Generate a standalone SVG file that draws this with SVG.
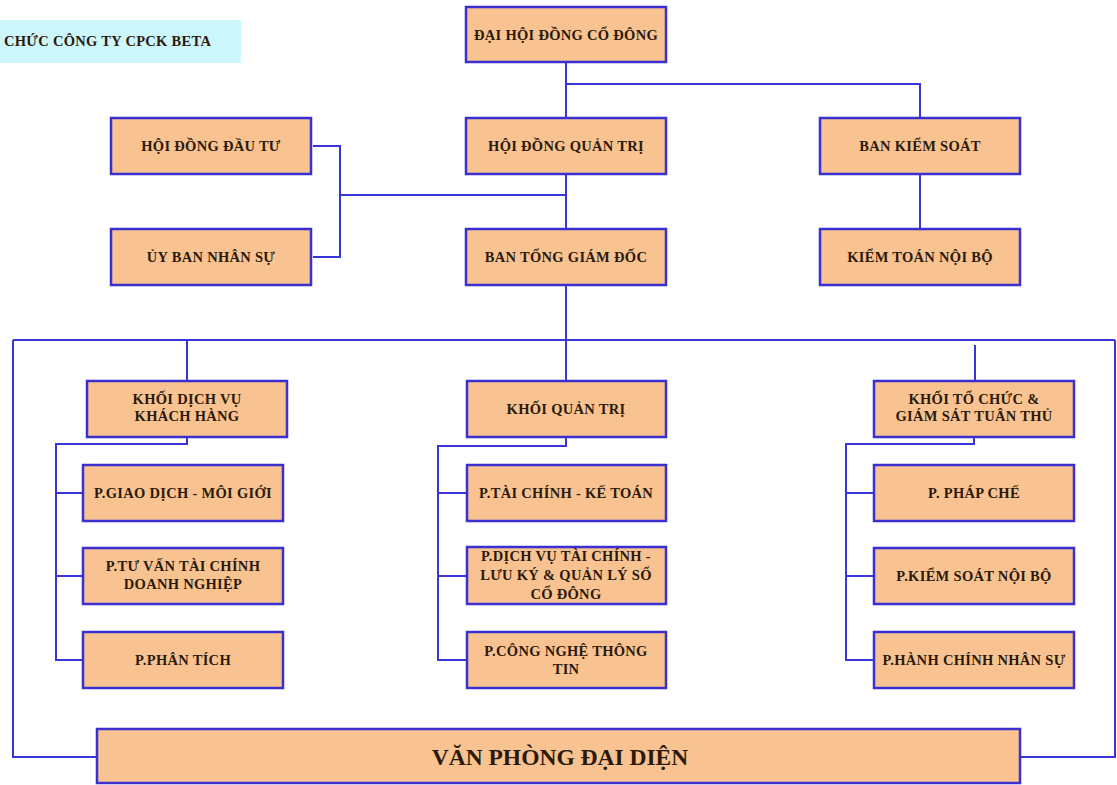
<svg xmlns="http://www.w3.org/2000/svg" width="1117" height="785" viewBox="0 0 1117 785">
<style>
.box{fill:#F9C391;stroke:#3A2FD0;stroke-width:2.5}
.t{font-family:"Liberation Serif",serif;font-weight:bold;font-size:14.5px;letter-spacing:0.3px;fill:#2B1A0C;text-anchor:middle}
.big{font-size:23.5px;letter-spacing:0}
.ln{fill:none;stroke:#3A35D8;stroke-width:2}
</style>
<rect width="1117" height="785" fill="#FFFFFF"/>
<g id="title">
<rect x="0" y="20" width="241" height="43" fill="#CCF6FA"/>
<text x="4" y="46" class="t" style="text-anchor:start">CHỨC CÔNG TY CPCK BETA</text>
</g>
<g id="connectors">
<path class="ln" d="M566 62V118M566 84H920V118"/>
<path class="ln" d="M566 174V229M313 146H340V257H313M340 195H566"/>
<path class="ln" d="M920 174V229"/>
<path class="ln" d="M566 285V381M13 340H1115M187 340V381M975 345V381"/>
<path class="ln" d="M13 340V757H97M1020 757H1115V340"/>
<path class="ln" d="M187 437V444H56V660H83M56 493H83M56 576H83"/>
<path class="ln" d="M566 437V446H438V660H467M438 493H467M438 576H467"/>
<path class="ln" d="M974 437V444H846V660H874M846 493H874M846 576H874"/>
</g>
<g id="dhdcd"><rect class="box" x="466" y="7" width="200" height="55"/><text class="t" x="566" y="40">ĐẠI HỘI ĐỒNG CỔ ĐÔNG</text></g>
<g id="hddt"><rect class="box" x="111" y="118" width="200" height="56"/><text class="t" x="211" y="151">HỘI ĐỒNG ĐẦU TƯ</text></g>
<g id="hdqt"><rect class="box" x="466" y="118" width="200" height="56"/><text class="t" x="566" y="151">HỘI ĐỒNG QUẢN TRỊ</text></g>
<g id="bks"><rect class="box" x="820" y="118" width="200" height="56"/><text class="t" x="920" y="151">BAN KIỂM SOÁT</text></g>
<g id="ubns"><rect class="box" x="111" y="229" width="200" height="56"/><text class="t" x="211" y="262">ỦY BAN NHÂN SỰ</text></g>
<g id="btgd"><rect class="box" x="466" y="229" width="200" height="56"/><text class="t" x="566" y="262">BAN TỔNG GIÁM ĐỐC</text></g>
<g id="ktnb"><rect class="box" x="820" y="229" width="200" height="56"/><text class="t" x="920" y="262">KIỂM TOÁN NỘI BỘ</text></g>
<g id="kdvkh"><rect class="box" x="87" y="381" width="200" height="56"/><text class="t" x="187" y="404">KHỐI DỊCH VỤ</text><text class="t" x="187" y="421">KHÁCH HÀNG</text></g>
<g id="kqt"><rect class="box" x="467" y="381" width="199" height="56"/><text class="t" x="566" y="414">KHỐI QUẢN TRỊ</text></g>
<g id="ktc"><rect class="box" x="874" y="381" width="200" height="56"/><text class="t" x="974" y="404">KHỐI TỔ CHỨC &amp;</text><text class="t" x="974" y="421">GIÁM SÁT TUÂN THỦ</text></g>
<g id="pgd"><rect class="box" x="83" y="465" width="200" height="56"/><text class="t" x="183" y="498">P.GIAO DỊCH - MÔI GIỚI</text></g>
<g id="ptv"><rect class="box" x="83" y="548" width="200" height="56"/><text class="t" x="183" y="571">P.TƯ VẤN TÀI CHÍNH</text><text class="t" x="183" y="589">DOANH NGHIỆP</text></g>
<g id="ppt"><rect class="box" x="83" y="632" width="200" height="56"/><text class="t" x="183" y="665">P.PHÂN TÍCH</text></g>
<g id="ptckt"><rect class="box" x="467" y="465" width="199" height="56"/><text class="t" x="566" y="498">P.TÀI CHÍNH - KẾ TOÁN</text></g>
<g id="pdvtc"><rect class="box" x="467" y="547" width="199" height="57"/><text class="t" x="566" y="561">P.DỊCH VỤ TÀI CHÍNH -</text><text class="t" x="566" y="580">LƯU KÝ &amp; QUẢN LÝ SỔ</text><text class="t" x="566" y="599">CỔ ĐÔNG</text></g>
<g id="pcntt"><rect class="box" x="467" y="632" width="199" height="56"/><text class="t" x="566" y="656">P.CÔNG NGHỆ THÔNG</text><text class="t" x="566" y="674">TIN</text></g>
<g id="ppc"><rect class="box" x="874" y="465" width="200" height="56"/><text class="t" x="974" y="498">P. PHÁP CHẾ</text></g>
<g id="pksnb"><rect class="box" x="874" y="548" width="200" height="56"/><text class="t" x="974" y="581">P.KIỂM SOÁT NỘI BỘ</text></g>
<g id="phcns"><rect class="box" x="874" y="632" width="200" height="56"/><text class="t" x="974" y="665">P.HÀNH CHÍNH NHÂN SỰ</text></g>
<g id="vpdd"><rect class="box" x="97" y="729" width="923" height="54"/><text class="t big" x="560" y="765">VĂN PHÒNG ĐẠI DIỆN</text></g>
</svg>
